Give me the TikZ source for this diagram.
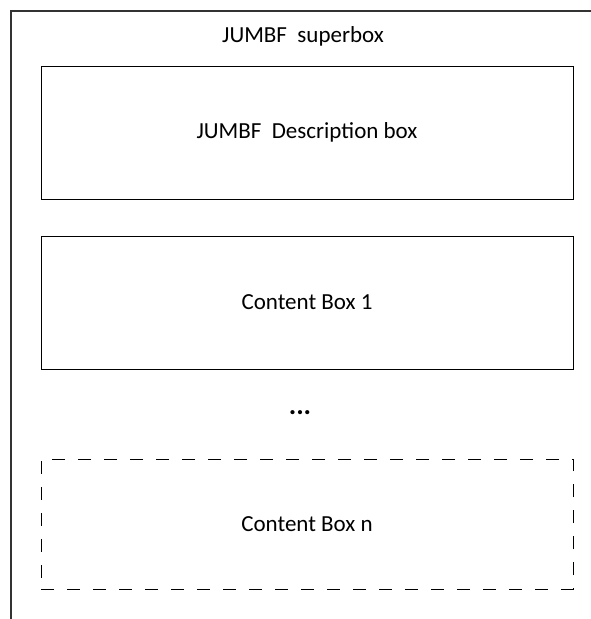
\documentclass[tikz,border=0pt]{standalone}
\usepackage{fontspec}
\setmainfont{Carlito}
\usetikzlibrary{positioning}

\begin{document}
\begin{tikzpicture}[x=1pt, y=-1pt, thick, line width=1pt,
		every node/.style={font=\fontsize{23}{26}\selectfont},
		subbox/.style={draw, minimum width=532pt, minimum height=133pt, inner sep=0pt},
		lastbox/.style={subbox, minimum height=130pt, dash pattern=on 13pt off 13pt}]
	\useasboundingbox (0,0) rectangle (590,619);
	
	% === 外框：superbox (只显示左边和上边) ===
	\draw[line width=1.3pt, black!80] (11,619) -- (11,11) -- (592,11);
	\node (super) at (303,36) {JUMBF~ superbox};
	
	% 描述框
	\node[subbox] (desc) at (307,132.5) {JUMBF~ Description box};
	
	% 内容框
	\node[subbox, below=36pt of desc] (content1) {Content Box 1};
	\node[font=\fontsize{28}{30}\bfseries] (dots) at (300,413) {...};
	\node[lastbox] (contentn) at (307,524) {Content Box n};
\end{tikzpicture}
\end{document}
